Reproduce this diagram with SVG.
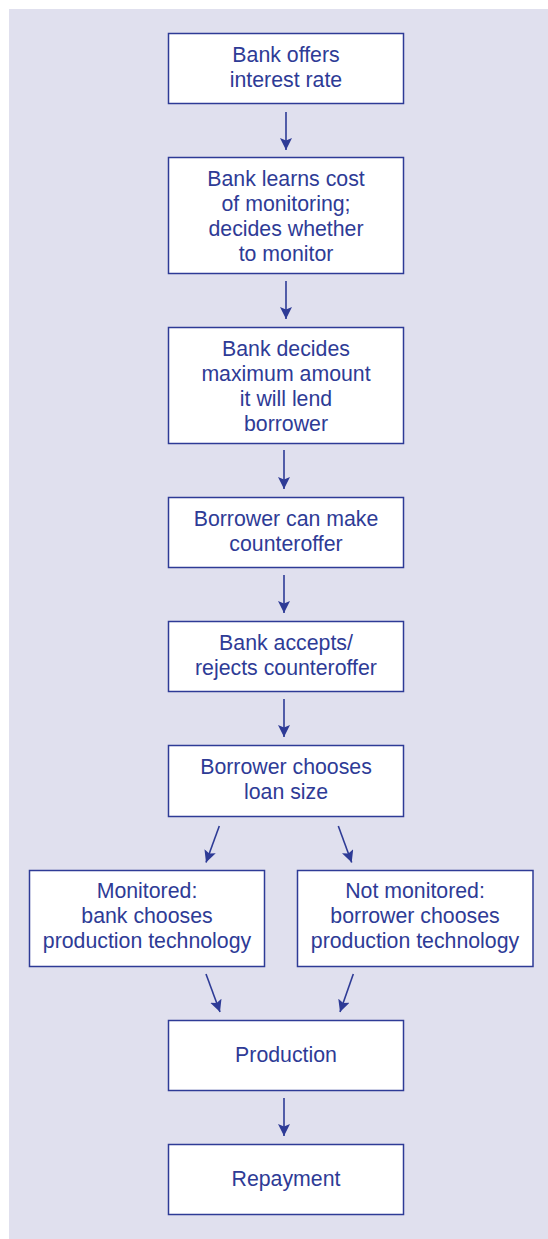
<svg xmlns="http://www.w3.org/2000/svg" width="548" height="1239" viewBox="0 0 548 1239">
<defs>
<style>
.bg{fill:#e0e0ee;}
.box{fill:#ffffff;stroke:#2e3b96;stroke-width:1.5;}
.lbl{font-family:"Liberation Sans",Arial,sans-serif;font-size:21.3px;fill:#2e3b96;text-anchor:middle;}
.conn{stroke:#2e3b96;stroke-width:1.6;fill:none;marker-end:url(#ah);}
</style>
<marker id="ah" markerUnits="userSpaceOnUse" markerWidth="12" markerHeight="12" refX="10" refY="5" orient="auto" viewBox="0 0 10 10">
<path d="M0,0 L10,5 L0,10 L2,5 z" fill="#2e3b96"/>
</marker>
</defs>
<rect class="bg" x="9" y="9" width="539" height="1230"/>
<g id="connectors">
<line class="conn" x1="286" y1="112" x2="286" y2="150"/>
<line class="conn" x1="286" y1="281" x2="286" y2="319"/>
<line class="conn" x1="284" y1="450" x2="284" y2="489"/>
<line class="conn" x1="284" y1="575" x2="284" y2="613"/>
<line class="conn" x1="284" y1="699" x2="284" y2="737"/>
<line class="conn" x1="219.3" y1="826" x2="206" y2="862.5"/>
<line class="conn" x1="338.3" y1="826" x2="351.7" y2="862.5"/>
<line class="conn" x1="206" y1="974" x2="220" y2="1012"/>
<line class="conn" x1="353.3" y1="974" x2="340" y2="1012"/>
<line class="conn" x1="284" y1="1098" x2="284" y2="1136"/>
</g>
<g id="n1"><rect class="box" x="168.5" y="33.5" width="235" height="70"/>
<text class="lbl" x="286" y="61.5">Bank offers</text><text class="lbl" x="286" y="86.5">interest rate</text></g>
<g id="n2"><rect class="box" x="168.5" y="157.5" width="235" height="116"/>
<text class="lbl" x="286" y="186">Bank learns cost</text><text class="lbl" x="286" y="211">of monitoring;</text><text class="lbl" x="286" y="236">decides whether</text><text class="lbl" x="286" y="261">to monitor</text></g>
<g id="n3"><rect class="box" x="168.5" y="327.5" width="235" height="116"/>
<text class="lbl" x="286" y="356">Bank decides</text><text class="lbl" x="286" y="381">maximum amount</text><text class="lbl" x="286" y="406">it will lend</text><text class="lbl" x="286" y="431">borrower</text></g>
<g id="n4"><rect class="box" x="168.5" y="497.5" width="235" height="70"/>
<text class="lbl" x="286" y="525.5">Borrower can make</text><text class="lbl" x="286" y="550.5">counteroffer</text></g>
<g id="n5"><rect class="box" x="168.5" y="621.5" width="235" height="70"/>
<text class="lbl" x="286" y="649.5">Bank accepts/</text><text class="lbl" x="286" y="674.5">rejects counteroffer</text></g>
<g id="n6"><rect class="box" x="168.5" y="745.5" width="235" height="71"/>
<text class="lbl" x="286" y="774">Borrower chooses</text><text class="lbl" x="286" y="799">loan size</text></g>
<g id="n7"><rect class="box" x="29.5" y="870.5" width="235" height="96"/>
<text class="lbl" x="147" y="898">Monitored:</text><text class="lbl" x="147" y="923">bank chooses</text><text class="lbl" x="147" y="948">production technology</text></g>
<g id="n8"><rect class="box" x="297.5" y="870.5" width="235.5" height="96"/>
<text class="lbl" x="415" y="898">Not monitored:</text><text class="lbl" x="415" y="923">borrower chooses</text><text class="lbl" x="415" y="948">production technology</text></g>
<g id="n9"><rect class="box" x="168.5" y="1020.5" width="235" height="70"/>
<text class="lbl" x="286" y="1062">Production</text></g>
<g id="n10"><rect class="box" x="168.5" y="1144.5" width="235" height="70"/>
<text class="lbl" x="286" y="1186">Repayment</text></g>
</svg>
